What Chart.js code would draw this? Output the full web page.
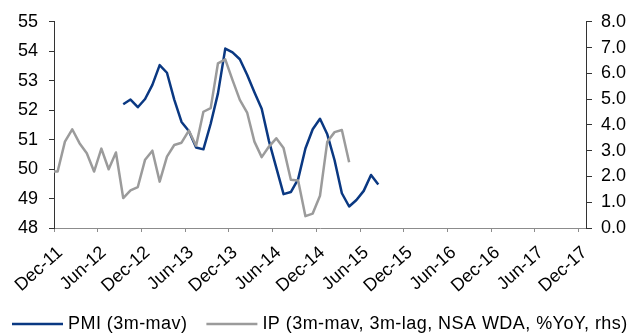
<!DOCTYPE html>
<html>
<head>
<meta charset="utf-8">
<script src="https://cdn.jsdelivr.net/npm/chart.js@4.4.1/dist/chart.umd.min.js"></script>
<style>
  html, body { margin: 0; padding: 0; background: #fff; }
  #wrap { width: 627px; height: 336px; }
</style>
</head>
<body>
<div id="wrap"><canvas id="chart" width="627" height="336"></canvas></div>
<script>
// Month axis: 0 = start of Dec-11, one unit per month, each month's value sits mid-month.
const tickLabels = ['Dec-11', 'Jun-12', 'Dec-12', 'Jun-13', 'Dec-13', 'Jun-14', 'Dec-14',
                    'Jun-15', 'Dec-15', 'Jun-16', 'Dec-16', 'Jun-17', 'Dec-17'];
const monthsPerTick = 6;
const axisMonths = 73;            // Dec-11 through Dec-17

// PMI, 3-month moving average, from Sep-12
const pmiLabel = 'PMI (3m-mav)';
const pmiStartMonth = 9;
const pmiValues = [52.2, 52.36, 52.1, 52.38, 52.86, 53.53, 53.27, 52.36, 51.6, 51.29,
                   50.73, 50.67, 51.54, 52.57, 54.09, 53.96, 53.73, 53.2, 52.61, 52.05,
                   50.95, 50.05, 49.15, 49.22, 49.66, 50.7, 51.35, 51.71, 51.18, 50.3,
                   49.18, 48.73, 48.95, 49.26, 49.8, 49.48];

// Industrial production, %YoY (right-hand scale), from Nov-11
const ipLabel = 'IP (3m-mav, 3m-lag, NSA WDA, %YoY, rhs)';
const ipStartMonth = -1;
const ipValues = [2.2, 2.19, 3.35, 3.83, 3.29, 2.9, 2.19, 3.08, 2.28, 2.93,
                  1.16, 1.46, 1.59, 2.65, 3.0, 1.8, 2.77, 3.22, 3.31, 3.78,
                  3.19, 4.51, 4.65, 6.39, 6.54, 5.74, 4.97, 4.48, 3.35, 2.75,
                  3.16, 3.48, 3.1, 1.87, 1.84, 0.46, 0.56, 1.25, 3.35, 3.72,
                  3.8, 2.55];

const leftRange = [48, 55];
const rightRange = [0, 8];

const FONT = { family: '"Liberation Sans", Arial, sans-serif', size: 18 };
const TEXT = '#000';

function toPoints(start, values) {
  return values.map((v, i) => ({ x: start + i + 0.5, y: v }));
}

// Legend drawn as line samples under the axis labels
const lineLegend = {
  id: 'lineLegend',
  afterDraw(chart) {
    const ctx = chart.ctx;
    const y = 324;
    let x = 12;
    ctx.save();
    ctx.font = `${FONT.size}px ${FONT.family}`;
    ctx.textBaseline = 'middle';
    ctx.textAlign = 'left';
    if ('letterSpacing' in ctx) ctx.letterSpacing = '0.45px';
    chart.data.datasets.forEach(ds => {
      ctx.strokeStyle = ds.borderColor;
      ctx.lineWidth = ds.borderWidth;
      ctx.beginPath();
      ctx.moveTo(x, y);
      ctx.lineTo(x + 51, y);
      ctx.stroke();
      ctx.fillStyle = TEXT;
      ctx.fillText(ds.label, x + 56, y);
      x += 56 + ctx.measureText(ds.label).width + 19;
    });
    ctx.restore();
  }
};

new Chart(document.getElementById('chart'), {
  type: 'line',
  data: {
    datasets: [
      {
        label: pmiLabel,
        data: toPoints(pmiStartMonth, pmiValues),
        yAxisID: 'y',
        borderColor: '#0a3882',
        borderWidth: 2.5,
        borderJoinStyle: 'round',
        pointRadius: 0,
        tension: 0,
        clip: 0,
        order: 2
      },
      {
        label: ipLabel,
        data: toPoints(ipStartMonth, ipValues),
        yAxisID: 'y2',
        borderColor: '#9b9b9b',
        borderWidth: 2.5,
        borderJoinStyle: 'round',
        pointRadius: 0,
        tension: 0,
        clip: 0,
        order: 1
      }
    ]
  },
  options: {
    responsive: false,
    devicePixelRatio: 1,
    animation: false,
    layout: { padding: { top: 21, left: 0, right: 0, bottom: 30 } },
    plugins: { legend: { display: false }, tooltip: { enabled: false } },
    scales: {
      x: {
        type: 'linear',
        min: 0,
        max: axisMonths,
        afterBuildTicks: scale => {
          scale.ticks = tickLabels.map((_, i) => ({ value: i * monthsPerTick }));
        },
        afterFit: scale => { scale.height = 78; },
        grid: { drawOnChartArea: false, drawTicks: true, tickLength: 4, color: '#8c8c8c', lineWidth: 1 },
        border: { display: true, color: '#8c8c8c', width: 1 },
        ticks: {
          autoSkip: false,
          maxRotation: 42,
          minRotation: 42,
          padding: 10,
          labelOffset: 6,
          color: TEXT,
          font: FONT,
          callback: value => tickLabels[Math.round(value / monthsPerTick)]
        }
      },
      y: {
        position: 'left',
        min: leftRange[0],
        max: leftRange[1],
        afterFit: scale => { scale.width = 54; },
        grid: { drawOnChartArea: false, drawTicks: true, tickLength: 5, color: '#333', lineWidth: 1 },
        border: { display: true, color: '#333', width: 1 },
        ticks: { stepSize: 1, padding: 11, color: TEXT, font: FONT }
      },
      y2: {
        position: 'right',
        min: rightRange[0],
        max: rightRange[1],
        afterFit: scale => { scale.width = 41; },
        grid: { drawOnChartArea: false, drawTicks: true, tickLength: 6, color: '#333', lineWidth: 1 },
        border: { display: true, color: '#333', width: 1 },
        ticks: { stepSize: 1, padding: 9, color: TEXT, font: FONT, callback: v => v.toFixed(1) }
      }
    }
  },
  plugins: [lineLegend]
});
</script>
</body>
</html>
